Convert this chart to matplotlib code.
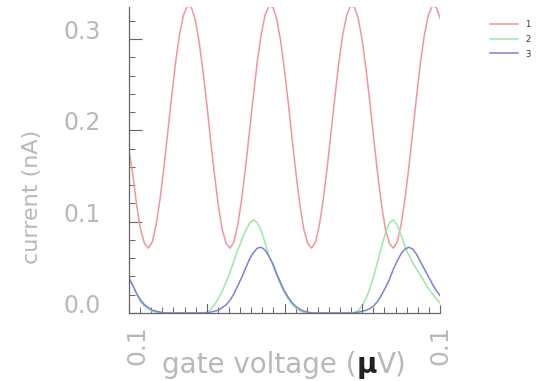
"""Coulomb-blockade style current traces against gate voltage."""

import matplotlib
matplotlib.use("Agg")
import matplotlib.pyplot as plt
import numpy as np
from matplotlib.ticker import MultipleLocator
from matplotlib.transforms import ScaledTranslation

# gate voltage sample positions (uV), one reading every 0.0025
VOLTAGE = np.linspace(-0.1, 0.1, 81)

# current (nA)
RED = [0.178, 0.151, 0.117, 0.091, 0.076, 0.071, 0.078, 0.097, 0.125, 0.160,
       0.199, 0.238, 0.275, 0.305, 0.326, 0.336, 0.335, 0.322, 0.298, 0.266,
       0.229, 0.189, 0.151, 0.117, 0.091, 0.076, 0.071, 0.078, 0.097, 0.125,
       0.160, 0.199, 0.238, 0.275, 0.305, 0.326, 0.336, 0.335, 0.322, 0.298,
       0.266, 0.229, 0.189, 0.151, 0.117, 0.091, 0.076, 0.071, 0.078, 0.097,
       0.125, 0.160, 0.199, 0.238, 0.275, 0.305, 0.326, 0.336, 0.335, 0.322,
       0.298, 0.266, 0.229, 0.189, 0.151, 0.117, 0.091, 0.076, 0.071, 0.078,
       0.097, 0.125, 0.160, 0.199, 0.238, 0.275, 0.305, 0.326, 0.336, 0.335,
       0.323]
GREEN = [0.040, 0.030, 0.020, 0.012, 0.007, 0.004, 0.002, 0.001, 0.000, 0.000,
         0.000, 0.000, 0.000, 0.000, 0.000, 0.000, 0.000, 0.000, 0.000, 0.000,
         0.001, 0.004, 0.009, 0.016, 0.024, 0.034, 0.045, 0.057, 0.069, 0.080,
         0.090, 0.098, 0.102, 0.099, 0.090, 0.077, 0.063, 0.052, 0.041, 0.031,
         0.022, 0.015, 0.009, 0.005, 0.002, 0.001, 0.000, 0.000, 0.000, 0.000,
         0.000, 0.000, 0.000, 0.000, 0.000, 0.000, 0.000, 0.000, 0.001, 0.003,
         0.008, 0.016, 0.027, 0.041, 0.057, 0.073, 0.088, 0.099, 0.102, 0.096,
         0.085, 0.073, 0.063, 0.055, 0.048, 0.041, 0.034, 0.027, 0.021, 0.016,
         0.011]
BLUE = [0.037, 0.030, 0.021, 0.014, 0.009, 0.006, 0.003, 0.002, 0.001, 0.000,
        0.000, 0.000, 0.000, 0.000, 0.000, 0.000, 0.000, 0.000, 0.000, 0.000,
        0.000, 0.001, 0.002, 0.003, 0.006, 0.009, 0.014, 0.021, 0.030, 0.039,
        0.049, 0.059, 0.066, 0.071, 0.072, 0.069, 0.062, 0.054, 0.043, 0.033,
        0.024, 0.017, 0.011, 0.007, 0.004, 0.002, 0.001, 0.000, 0.000, 0.000,
        0.000, 0.000, 0.000, 0.000, 0.000, 0.000, 0.000, 0.000, 0.000, 0.001,
        0.002, 0.003, 0.005, 0.008, 0.013, 0.020, 0.028, 0.037, 0.048, 0.057,
        0.065, 0.070, 0.072, 0.070, 0.064, 0.056, 0.048, 0.040, 0.032, 0.025,
        0.019]

SERIES = [("1", RED, "#f0959d"), ("2", GREEN, "#9fe6a4"), ("3", BLUE, "#7f7fd8")]
Y_TICKS = [0.0, 0.1, 0.2, 0.3]
Y_TICK_LABELS = ["0.0", "0.1", "0.2", "0.3"]
X_TICKS = [-0.1, 0.1]
X_TICK_LABELS = ["0.1", "0.1"]

TEXT = "#b8b8b8"
AXIS = "#666666"

plt.rcParams["font.family"] = "DejaVu Sans"

fig = plt.figure(figsize=(5.45, 3.81), dpi=100)
ax = fig.add_axes([129 / 545, 68 / 381, 311 / 545, 306 / 381])

for label, values, color in SERIES:
    ax.plot(VOLTAGE, values, color=color, lw=1.1, label=label)

ax.set_xlim(-0.1, 0.1)
ax.set_ylim(0, 0.335)

for side in ("top", "right"):
    ax.spines[side].set_visible(False)
for side in ("left", "bottom"):
    ax.spines[side].set_color(AXIS)
    ax.spines[side].set_linewidth(0.9)

ax.set_yticks(Y_TICKS)
ax.set_yticklabels(Y_TICK_LABELS, va="baseline")
ax.yaxis.set_minor_locator(MultipleLocator(0.02))
ax.set_xticks(X_TICKS)
ax.set_xticklabels(X_TICK_LABELS, rotation=90, va="top")
ax.xaxis.set_minor_locator(MultipleLocator(0.05 / 7))

ax.tick_params(axis="y", which="major", direction="in", length=9, width=0.8,
               color=AXIS, labelcolor=TEXT, labelsize=17, pad=20)
ax.tick_params(axis="y", which="minor", direction="in", length=4, width=0.7,
               color=AXIS)
ax.tick_params(axis="x", which="major", direction="in", length=6, width=0.8,
               color=AXIS, labelcolor=TEXT, labelsize=18, pad=9)
ax.tick_params(axis="x", which="minor", direction="in", length=4, width=0.7,
               color=AXIS)

# the taller inner ticks at every 0.05
for xv in (-0.05, 0.0, 0.05):
    ax.axvline(xv, ymin=0, ymax=0.03, color=AXIS, lw=0.8)

# nudge the left voltage label to the right like the original
left_label = ax.get_xticklabels()[0]
left_label.set_transform(left_label.get_transform()
                         + ScaledTranslation(8 / 100, 0, fig.dpi_scale_trans))

# axis titles
fig.text(32 / 545, 1 - 197 / 381, "current (nA)", rotation=90, color=TEXT,
         fontsize=16, ha="center", va="center")
t1 = fig.text(162 / 545, 8 / 381, "gate voltage (", color=TEXT, fontsize=20,
              ha="left", va="baseline")
t2 = ax.annotate("\u00b5", xy=(1, 0), xycoords=t1, color="#222222",
                 fontsize=20, fontweight="bold", ha="left", va="bottom")
ax.annotate("V)", xy=(1, 0), xycoords=t2, color=TEXT, fontsize=20,
            ha="left", va="bottom")

leg = ax.legend(loc="upper left", bbox_to_anchor=(490 / 545, 1 - 20 / 381),
                bbox_transform=fig.transFigure, frameon=False, fontsize=6,
                handlelength=3.4, handleheight=1, labelspacing=0.7,
                handletextpad=0.8, borderpad=0, borderaxespad=0)
for text in leg.get_texts():
    text.set_color("#333333")

fig.savefig("out.png", dpi=100)
